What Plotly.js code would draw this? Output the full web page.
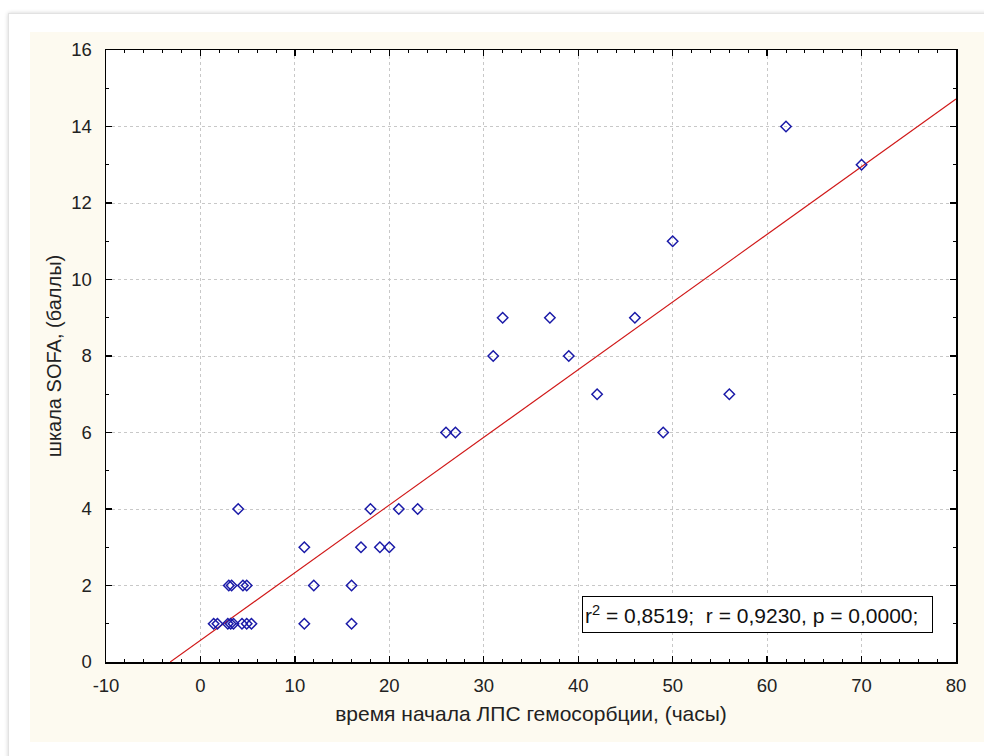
<!DOCTYPE html>
<html>
<head>
<meta charset="utf-8">
<script src="https://cdn.plot.ly/plotly-3.0.1.min.js"></script>
<style>
  html, body { margin:0; padding:0; background:#ffffff; width:984px; height:756px; overflow:hidden; }
  #card { position:absolute; left:8px; top:13px; width:1000px; height:760px; background:#ffffff;
          border:1px solid #e2e2e2; box-shadow:0 0 4px rgba(0,0,0,0.18); }
  #chart { position:absolute; left:30px; top:32px; width:954px; height:710px; }
</style>
</head>
<body>
<div id="card"></div>
<div id="chart"></div>
<script>
// Observed data: start time of LPS hemosorption (hours) vs SOFA score
const hoursX = [1.4, 1.8, 2.9, 3.2, 3.5, 4.4, 4.9, 5.4, 11, 16,
                3, 3.3, 4.5, 4.9, 12, 16,
                11, 17, 19, 20,
                4, 18, 21, 23,
                26, 27, 49,
                42, 56,
                31, 39,
                32, 37, 46,
                50, 70, 62];
const sofaY  = [1, 1, 1, 1, 1, 1, 1, 1, 1, 1,
                2, 2, 2, 2, 2, 2,
                3, 3, 3, 3,
                4, 4, 4, 4,
                6, 6, 6,
                7, 7,
                8, 8,
                9, 9, 9,
                11, 13, 14];
// Regression line endpoints
const fitX = [-3.2, 80];
const fitY = [0, 14.72];

const xTickVals = [-10, 0, 10, 20, 30, 40, 50, 60, 70, 80];
const yTickVals = [0, 2, 4, 6, 8, 10, 12, 14, 16];
const statsText = 'r<sup>2</sup> = 0,8519;\u00a0 r = 0,9230, p = 0,0000;';
const xTitle = 'время начала ЛПС гемосорбции, (часы)';
const yTitle = 'шкала SOFA, (баллы)';

const FAM = '"Liberation Sans", Arial, sans-serif';
const tickFont = {family:FAM, size:18.5, color:'#222222'};

const traces = [
  {x: fitX, y: fitY, type:'scatter', mode:'lines', line:{color:'#d01818', width:1.1}, hoverinfo:'skip'},
  {x: hoursX, y: sofaY, type:'scatter', mode:'markers',
   marker:{symbol:'diamond-open', size:8, color:'#1a1aa8', line:{width:1.5, color:'#1a1aa8'}}, cliponaxis:false}
];

const axisCommon = {
  showline:true, linecolor:'#000000', linewidth:1.5, mirror:'ticks',
  ticks:'inside', ticklen:6, tickwidth:1.3, tickcolor:'#000000',
  showgrid:true, gridcolor:'#c8c8c8', gridwidth:1, griddash:'dot',
  zeroline:false, tickfont:tickFont
};

const layout = {
  width:954, height:710,
  margin:{l:76, r:28, t:18, b:80},
  paper_bgcolor:'#fdfaf0', plot_bgcolor:'#ffffff',
  showlegend:false,
  font:{family:FAM, size:16, color:'#222222'},
  xaxis: Object.assign({}, axisCommon, {
    range:[-10, 80], tickmode:'array', tickvals:xTickVals, ticktext:xTickVals.map(String),
    ticklabelstandoff:6,
    minor:{dtick:2, ticks:'inside', ticklen:3, tickcolor:'#000000', tickwidth:1, showgrid:false},
    title:{text:xTitle, font:{family:FAM, size:21, color:'#222222'}, standoff:11}
  }),
  yaxis: Object.assign({}, axisCommon, {
    range:[0, 16], tickmode:'array', tickvals:yTickVals, ticktext:yTickVals.map(String),
    ticklabelstandoff:9,
    minor:{dtick:1, ticks:'inside', ticklen:3, tickcolor:'#000000', tickwidth:1, showgrid:false},
    title:{text:yTitle, font:{family:FAM, size:20, color:'#222222'}, standoff:4}
  }),
  annotations:[{
    xref:'paper', yref:'paper', x:0.7665, y:0.0776, xanchor:'center', yanchor:'middle',
    text:statsText, showarrow:false, align:'left',
    font:{family:FAM, size:21, color:'#111111'},
    bgcolor:'#ffffff', bordercolor:'#000000', borderwidth:1, borderpad:2,
    width:345, height:31
  }]
};

Plotly.newPlot('chart', traces, layout, {displayModeBar:false, staticPlot:true});
</script>
</body>
</html>
